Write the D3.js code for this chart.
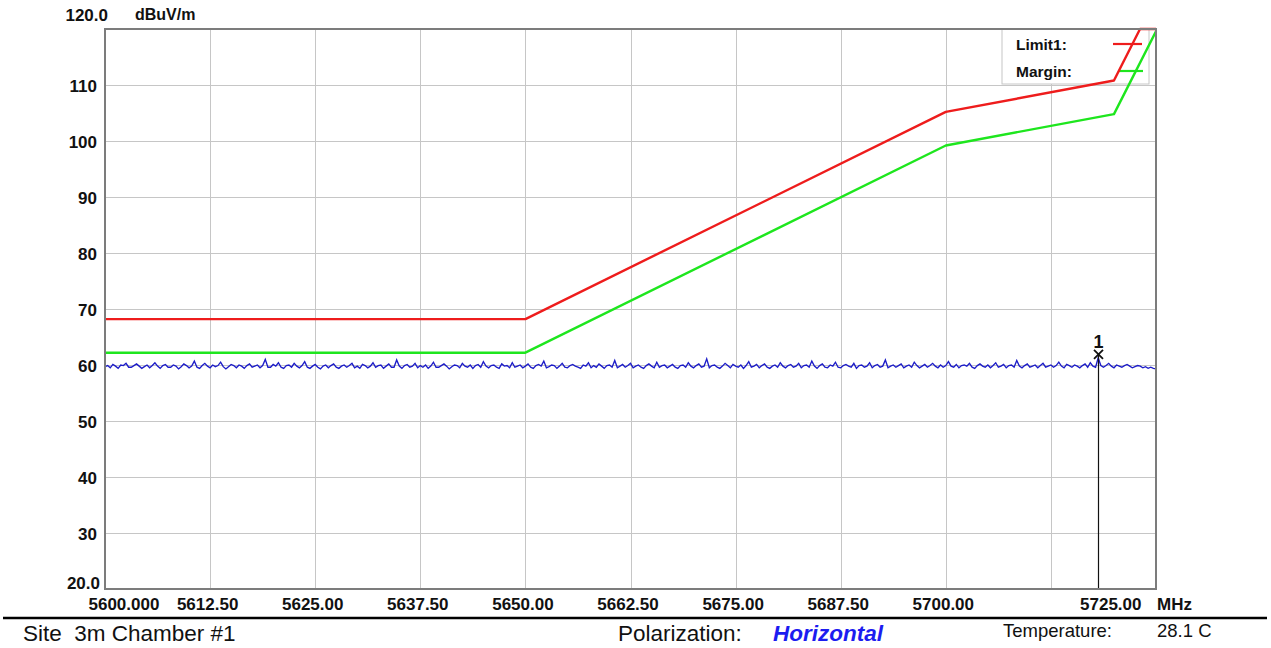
<!DOCTYPE html>
<html>
<head>
<meta charset="utf-8">
<script src="https://cdn.jsdelivr.net/npm/d3@7"></script>
<style>
  html, body { margin: 0; padding: 0; background: #fff; }
  svg { display: block; font-family: "Liberation Sans", Arial, sans-serif; }
  text { white-space: pre; }
</style>
</head>
<body>
<svg id="chart" width="1271" height="648"></svg>
<script>
// ---- Frequency / level ranges and tick labels ----
const freqStart = 5600, freqStop = 5725, freqStep = 12.5;
const levelMin = 20, levelMax = 120, levelStep = 10;
const xTickLabels = ["5600.000", "5612.50", "5625.00", "5637.50", "5650.00", "5662.50",
                     "5675.00", "5687.50", "5700.00", "", "5725.00"];
const yTickLabels = ["20.0", "30", "40", "50", "60", "70", "80", "90", "100", "110", "120.0"];

// ---- Limit line (dBuV/m) and margin line (limit - 6 dB) ----
const limitFreq   = [5600, 5650, 5700, 5720, 5723.1, 5725];
const limitLevel  = [68.2, 68.2, 105.2, 110.8, 120.0, 120.0];
const marginFreq  = [5600, 5650, 5700, 5720, 5725];
const marginLevel = [62.2, 62.2, 99.2, 104.8, 119.6];

// ---- Measured peak trace, 401 sweep points across the span ----
const traceLevel = [
  59.7,59.9,59.5,60.1,59.8,59.4,60.0,59.9,60.3,59.6,59.6,59.9,60.2,59.8,59.4,59.7,60.0,59.5,59.9,60.4,
  59.8,59.4,59.9,60.1,59.6,59.6,60.0,59.8,59.3,59.7,60.2,59.9,59.5,59.8,60.7,59.6,59.4,59.9,60.3,59.8,
  59.5,60.0,59.7,59.9,60.5,59.7,59.3,59.7,60.1,59.9,59.5,60.0,59.8,59.4,59.9,60.2,59.6,59.8,60.0,59.5,
  59.9,61.0,59.6,59.6,60.1,59.8,60.4,59.6,59.4,59.9,60.0,59.6,60.3,59.8,59.5,59.9,60.6,59.6,59.4,59.8,
  60.1,59.6,59.3,59.8,60.0,59.5,59.9,60.2,59.6,59.4,59.8,60.0,59.6,59.9,60.3,59.5,59.8,59.4,60.1,59.9,
  59.5,59.8,60.4,59.6,59.9,60.0,59.4,59.8,60.2,59.6,59.6,60.9,59.8,59.4,59.9,60.1,59.6,59.8,60.3,59.5,
  59.9,59.6,60.0,59.4,59.8,60.5,59.6,59.6,59.9,60.2,59.8,59.3,59.7,60.0,59.9,59.5,60.3,59.8,59.6,60.0,
  59.4,59.9,60.1,59.6,60.6,59.8,59.5,59.9,60.0,59.6,59.4,60.2,59.8,59.9,59.5,60.4,59.6,59.8,60.0,59.5,
  59.8,60.2,59.6,59.4,59.9,60.1,59.8,60.7,59.5,59.7,60.0,59.9,59.4,59.8,60.3,59.6,59.5,59.9,60.1,59.8,
  59.6,59.4,60.0,59.8,60.4,59.5,59.9,59.6,60.2,59.8,59.4,59.9,60.0,59.6,60.8,59.5,59.8,60.1,59.6,59.9,
  60.3,59.5,59.8,60.0,59.6,59.4,59.9,60.2,59.8,59.5,60.5,59.6,59.9,60.0,59.5,59.8,60.1,59.6,59.4,59.9,
  60.0,59.6,60.4,59.8,59.5,59.9,60.2,59.6,59.8,61.1,59.5,59.9,60.0,59.6,59.4,59.8,60.3,59.9,59.5,60.1,
  59.8,59.6,60.0,59.4,59.9,60.6,59.6,59.8,60.1,59.5,59.9,60.2,59.6,59.4,59.8,60.0,59.6,60.4,59.8,59.5,
  59.9,60.1,59.6,59.8,60.3,59.5,59.9,60.0,59.6,60.7,59.8,59.4,59.9,60.2,59.6,59.5,60.0,59.8,60.5,59.6,
  59.5,59.9,60.1,59.8,59.6,60.3,59.4,59.9,60.0,59.6,59.8,60.4,59.5,59.9,60.1,59.6,59.8,60.9,59.5,59.8,
  60.0,59.6,59.9,60.2,59.5,59.8,60.0,59.6,60.5,59.9,59.5,59.8,60.1,59.6,59.9,60.3,59.8,59.5,60.0,59.6,
  59.9,60.6,59.8,59.6,60.1,59.5,59.9,60.0,59.8,60.3,59.6,59.4,59.9,60.2,59.8,59.6,60.0,59.5,59.9,60.4,
  59.6,59.8,60.1,59.5,59.9,60.0,59.6,60.8,59.8,59.5,59.9,60.2,59.6,59.8,60.0,59.5,59.9,60.3,59.6,59.8,
  60.0,59.6,59.9,60.5,59.8,59.5,60.1,59.9,59.6,60.0,59.8,59.5,59.9,60.2,59.6,60.4,59.8,59.6,61.3,59.9,
  59.6,59.9,60.3,59.8,59.5,60.0,59.8,59.6,59.9,60.1,59.8,59.5,59.7,59.9,59.8,59.5,59.7,59.4,59.6,59.4,
  59.3
];

// ---- Marker 1 ----
const markerFreq = 5718.1;
const markerLevel = 61.9;
const markerName = "1";

// ---- Legend entries ----
const legendNames  = ["Limit1:", "Margin:"];
const legendColors = ["#ee1c1c", "#1ee61e"];

// ---- Footer info ----
const siteText = "Site  3m Chamber #1";
const polLabel = "Polarization:";
const polValue = "Horizontal";
const tempLabel = "Temperature:";
const tempValue = "28.1 C";
const unitY = "dBuV/m";
const unitX = "MHz";

const svg = d3.select("#chart");
const plot = { left: 105, right: 1156, top: 29, bottom: 589 };

const x = d3.scaleLinear().domain([freqStart, freqStop]).range([plot.left, plot.right]);
const y = d3.scaleLinear().domain([levelMin, levelMax]).range([plot.bottom, plot.top]);

const xTicks = d3.range(freqStart, freqStop + 0.001, freqStep);
const yTicks = d3.range(levelMin, levelMax + 0.001, levelStep);

// grid lines
const grid = svg.append("g").attr("stroke", "#c6c6c6").attr("stroke-width", 1);
grid.selectAll(".vg").data(xTicks).join("line")
  .attr("x1", d => Math.round(x(d)) + 0.5).attr("x2", d => Math.round(x(d)) + 0.5)
  .attr("y1", plot.top).attr("y2", plot.bottom);
grid.selectAll(".hg").data(yTicks).join("line")
  .attr("x1", plot.left).attr("x2", plot.right)
  .attr("y1", d => Math.round(y(d)) + 0.5).attr("y2", d => Math.round(y(d)) + 0.5);

// legend box (white, covers the grid)
const lg = { x0: 1002, x1: 1149, y0: plot.top, y1: 84 };
svg.append("rect")
  .attr("x", lg.x0).attr("y", lg.y0).attr("width", lg.x1 - lg.x0).attr("height", lg.y1 - lg.y0)
  .attr("fill", "#fff").attr("stroke", "#c6c6c6").attr("stroke-width", 1);
legendNames.forEach((name, i) => {
  const by = 50 + i * 27;
  svg.append("text").attr("x", 1016).attr("y", by)
    .attr("font-size", 15.5).attr("font-weight", "bold").attr("fill", "#111").text(name);
  svg.append("line")
    .attr("x1", 1113 + i * 5).attr("x2", 1142 + i * 1)
    .attr("y1", by - 6).attr("y2", by - 6)
    .attr("stroke", legendColors[i]).attr("stroke-width", 2.2);
});

// axis labels
const xAxis = d3.axisBottom(x).tickValues(xTicks).tickSize(0)
  .tickFormat((d, i) => xTickLabels[i]);
const gx = svg.append("g").attr("transform", `translate(0, ${plot.bottom})`).call(xAxis);
gx.select(".domain").remove();
gx.selectAll("text")
  .attr("font-family", "Liberation Sans, Arial, sans-serif")
  .attr("font-size", 17).attr("font-weight", "bold").attr("fill", "#111")
  .attr("dy", null).attr("y", 21)
  .attr("dx", -3);
gx.selectAll(".tick").filter((d, i) => i === 0).select("text")
  .attr("text-anchor", "start").attr("dx", -17);
gx.selectAll(".tick").filter((d, i) => i === xTicks.length - 1).select("text")
  .attr("text-anchor", "end").attr("dx", -15);
svg.append("text").attr("x", 1157).attr("y", plot.bottom + 21)
  .attr("font-size", 17).attr("font-weight", "bold").attr("fill", "#111").text(unitX);

const yAxis = d3.axisLeft(y).tickValues(yTicks).tickSize(0)
  .tickFormat((d, i) => yTickLabels[i]);
const gy = svg.append("g").attr("transform", `translate(97, 0)`).call(yAxis);
gy.select(".domain").remove();
gy.selectAll("text")
  .attr("font-family", "Liberation Sans, Arial, sans-serif")
  .attr("font-size", 17).attr("font-weight", "bold").attr("fill", "#111")
  .attr("x", 0).attr("dy", "0.36em");
gy.selectAll(".tick").filter(d => d === levelMin).select("text")
  .attr("x", 3).attr("dy", "-0.05em");
gy.selectAll(".tick").filter(d => d === levelMax).select("text")
  .attr("x", 11).attr("dy", "-0.5em");
svg.append("text").attr("x", 135).attr("y", 20)
  .attr("font-size", 16).attr("font-weight", "bold").attr("fill", "#111").text(unitY);

// data lines
const line = d3.line().x(d => x(d[0])).y(d => y(d[1]));
svg.append("clipPath").attr("id", "plotclip").append("rect")
  .attr("x", plot.left).attr("y", plot.top - 2)
  .attr("width", plot.right - plot.left).attr("height", plot.bottom - plot.top + 2);

const traceStep = (freqStop - freqStart) / (traceLevel.length - 1);
const trace = traceLevel.map((v, i) => [freqStart + i * traceStep, v]);
svg.append("path").datum(trace)
  .attr("d", line).attr("fill", "none")
  .attr("stroke", "#1c1cc8").attr("stroke-width", 1.35)
  .attr("clip-path", "url(#plotclip)");

svg.append("path").datum(marginFreq.map((f, i) => [f, marginLevel[i]]))
  .attr("d", line).attr("fill", "none")
  .attr("stroke", legendColors[1]).attr("stroke-width", 2.4)
  .attr("stroke-linejoin", "round")
  .attr("clip-path", "url(#plotclip)");

svg.append("path").datum(limitFreq.map((f, i) => [f, limitLevel[i]]))
  .attr("d", line).attr("fill", "none")
  .attr("stroke", legendColors[0]).attr("stroke-width", 2.4)
  .attr("stroke-linejoin", "round")
  .attr("clip-path", "url(#plotclip)");

// marker
const mx = Math.round(x(markerFreq)) + 0.5, my = y(markerLevel);
svg.append("line").attr("x1", mx).attr("x2", mx).attr("y1", my).attr("y2", plot.bottom)
  .attr("stroke", "#111").attr("stroke-width", 1.2);
const xs = 4.5;
svg.append("path")
  .attr("d", `M${mx - xs},${my - xs}L${mx + xs},${my + xs}M${mx - xs},${my + xs}L${mx + xs},${my - xs}`)
  .attr("stroke", "#111").attr("stroke-width", 1.8).attr("fill", "none");
svg.append("text").attr("x", mx).attr("y", my - 6).attr("text-anchor", "middle")
  .attr("font-size", 18).attr("font-weight", "bold").attr("fill", "#111").text(markerName);

// plot frame
svg.append("rect")
  .attr("x", plot.left).attr("y", plot.top)
  .attr("width", plot.right - plot.left).attr("height", plot.bottom - plot.top)
  .attr("fill", "none").attr("stroke", "#7c7c7c").attr("stroke-width", 2);

// footer
svg.append("line").attr("x1", 3).attr("x2", 1267).attr("y1", 618).attr("y2", 618)
  .attr("stroke", "#000").attr("stroke-width", 2.6);
svg.append("text").attr("x", 23).attr("y", 641)
  .attr("font-size", 22.5).attr("fill", "#111").text(siteText);
svg.append("text").attr("x", 618).attr("y", 641)
  .attr("font-size", 22.5).attr("fill", "#111").text(polLabel);
svg.append("text").attr("x", 773).attr("y", 641)
  .attr("font-size", 22.5).attr("font-weight", "bold").attr("font-style", "italic")
  .attr("fill", "#1c1cf0").text(polValue);
svg.append("text").attr("x", 1003).attr("y", 637)
  .attr("font-size", 18.5).attr("fill", "#111").text(tempLabel);
svg.append("text").attr("x", 1157).attr("y", 637)
  .attr("font-size", 18.5).attr("fill", "#111").text(tempValue);
</script>
</body>
</html>
